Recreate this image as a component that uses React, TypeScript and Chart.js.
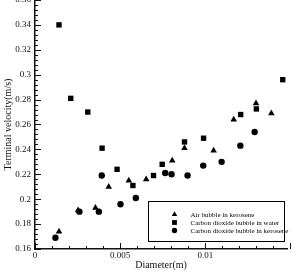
import React, { useEffect, useRef } from "react";
import { Chart, registerables } from "chart.js";

Chart.register(...registerables);

const seriesLabels = [
  "Air bubble in kerosene",
  "Carbon dioxide bubble in water",
  "Carbon dioxide bubble in kerosene",
];

const airX = [0.00141, 0.00253, 0.00355, 0.00433, 0.00551, 0.00653, 0.00806, 0.00878, 0.01049, 0.01167, 0.01298, 0.01388];
const airY = [0.174, 0.191, 0.193, 0.21, 0.215, 0.216, 0.231, 0.241, 0.239, 0.264, 0.277, 0.269];

const waterX = [0.00141, 0.0021, 0.0031, 0.00394, 0.00482, 0.00575, 0.00696, 0.00747, 0.00878, 0.0099, 0.01208, 0.013, 0.01455];
const waterY = [0.34, 0.281, 0.27, 0.241, 0.224, 0.211, 0.219, 0.228, 0.246, 0.249, 0.268, 0.2725, 0.296];

const keroX = [0.0012, 0.00261, 0.00375, 0.00392, 0.00502, 0.00592, 0.00765, 0.00802, 0.00896, 0.00988, 0.01096, 0.01206, 0.0129];
const keroY = [0.169, 0.19, 0.19, 0.219, 0.196, 0.201, 0.221, 0.22, 0.219, 0.227, 0.23, 0.243, 0.254];

const xTickValues = [0, 0.005, 0.01];
const xTickLabels = ["0", "0.005", "0.01"];
const yTickValues = [0.16, 0.18, 0.2, 0.22, 0.24, 0.26, 0.28, 0.3, 0.32, 0.34, 0.36];
const yTickLabels = ["0.16", "0.18", "0.2", "0.22", "0.24", "0.26", "0.28", "0.3", "0.32", "0.34", "0.36"];
const xMinorStep = 0.001;
const yMinorStep = 0.004;

const FONT = "'Liberation Serif', 'Times New Roman', serif";

const toPoints = (xs: number[], ys: number[]) => xs.map((x, i) => ({ x, y: ys[i] }));

const tickPlugin = {
  id: "innerTicks",
  afterDatasetsDraw(chart: any) {
    const { ctx, chartArea, scales } = chart;
    const xs = scales.x;
    const ys = scales.y;
    ctx.save();
    ctx.strokeStyle = "#111";
    ctx.lineWidth = 1;
    const nX = Math.round((xs.max - xs.min) / xMinorStep);
    for (let i = 0; i <= nX; i++) {
      const v = xs.min + i * xMinorStep;
      const px = Math.round(xs.getPixelForValue(v)) + 0.5;
      const major = Math.abs(v / 0.005 - Math.round(v / 0.005)) < 1e-6;
      const len = major ? 6 : 3;
      ctx.beginPath();
      ctx.moveTo(px, chartArea.bottom);
      ctx.lineTo(px, chartArea.bottom - len);
      ctx.stroke();
    }
    const nY = Math.round((ys.max - ys.min) / yMinorStep);
    for (let i = 0; i <= nY; i++) {
      const v = ys.min + i * yMinorStep;
      const py = Math.round(ys.getPixelForValue(v)) + 0.5;
      const major = Math.abs((v - 0.16) / 0.02 - Math.round((v - 0.16) / 0.02)) < 1e-6;
      const len = major ? 6 : 3;
      ctx.beginPath();
      ctx.moveTo(chartArea.left, py);
      ctx.lineTo(chartArea.left + len, py);
      ctx.stroke();
    }
    ctx.restore();
  },
};

const legendPlugin = {
  id: "boxLegend",
  afterDraw(chart: any) {
    const { ctx, chartArea } = chart;
    const bx = chartArea.left + 113.5;
    const by = chartArea.top + 201.5;
    const bw = 136;
    const bh = 40;
    ctx.save();
    ctx.strokeStyle = "#000";
    ctx.lineWidth = 1;
    ctx.strokeRect(bx, by, bw, bh);
    ctx.font = `7px ${FONT}`;
    ctx.fillStyle = "#000";
    ctx.textBaseline = "middle";
    chart.data.datasets.forEach((ds: any, i: number) => {
      const cy = by + 13 + i * 8;
      const style = ds.pointStyle;
      const r = 3.2;
      const mx = bx + 26;
      ctx.beginPath();
      if (style === "triangle") {
        ctx.moveTo(mx, cy - r);
        ctx.lineTo(mx + r * 0.866, cy + r / 2);
        ctx.lineTo(mx - r * 0.866, cy + r / 2);
        ctx.closePath();
      } else if (style === "rect") {
        const s = r * 0.75;
        ctx.rect(mx - s, cy - s, 2 * s, 2 * s);
      } else {
        ctx.arc(mx, cy, r * 0.85, 0, Math.PI * 2);
      }
      ctx.fill();
      ctx.fillText(ds.label, bx + 42, cy + 0.5);
    });
    ctx.restore();
  },
};

export default function App() {
  const ref = useRef<HTMLCanvasElement | null>(null);
  useEffect(() => {
    document.body.style.margin = "0";
    if (!ref.current) return;
    const common = {
      backgroundColor: "#000",
      borderColor: "#000",
      borderWidth: 0,
      showLine: false,
    };
    const chart = new Chart(ref.current, {
      type: "scatter",
      data: {
        datasets: [
          { ...common, label: seriesLabels[0], data: toPoints(airX, airY), pointStyle: "triangle", pointRadius: 3.8 },
          { ...common, label: seriesLabels[1], data: toPoints(waterX, waterY), pointStyle: "rect", pointRadius: 3.8 },
          { ...common, label: seriesLabels[2], data: toPoints(keroX, keroY), pointStyle: "circle", pointRadius: 3.2 },
        ],
      },
      options: {
        responsive: false,
        animation: false,
        devicePixelRatio: 1,
        layout: { autoPadding: false, padding: { top: 0, right: 8, left: 0, bottom: 0 } },
        plugins: { legend: { display: false }, tooltip: { enabled: false } },
        scales: {
          x: {
            type: "linear",
            min: 0,
            max: 0.0148,
            afterBuildTicks: (s: any) => {
              s.ticks = xTickValues.map((v) => ({ value: v }));
            },
            afterFit: (s: any) => {
              s.height = 22;
              s.paddingLeft = 0;
              s.paddingRight = 0;
            },
            grid: { display: false, drawTicks: false },
            border: { display: true, color: "#111", width: 1.5 },
            ticks: {
              padding: 1,
              color: "#111",
              font: { family: FONT, size: 9 },
              maxRotation: 0,
              autoSkip: false,
              callback: (v: any) => {
                const idx = xTickValues.findIndex((t) => Math.abs(t - v) < 1e-9);
                return idx >= 0 ? xTickLabels[idx] : "";
              },
            },
            title: {
              display: true,
              text: "Diameter(m)",
              color: "#111",
              font: { family: FONT, size: 10 },
              padding: { top: 0, bottom: 0 },
            },
          },
          y: {
            type: "linear",
            min: 0.16,
            max: 0.36,
            afterBuildTicks: (s: any) => {
              s.ticks = yTickValues.map((v) => ({ value: v }));
            },
            afterFit: (s: any) => {
              s.width = 35;
              s.paddingTop = 0;
              s.paddingBottom = 0;
            },
            grid: { display: false, drawTicks: false },
            border: { display: true, color: "#111", width: 1.5 },
            ticks: {
              padding: 4,
              color: "#111",
              font: { family: FONT, size: 9 },
              autoSkip: false,
              callback: (v: any) => {
                const idx = yTickValues.findIndex((t) => Math.abs(t - v) < 1e-9);
                return idx >= 0 ? yTickLabels[idx] : "";
              },
            },
            title: {
              display: true,
              text: "Terminal velocity(m/s)",
              color: "#111",
              font: { family: FONT, size: 10 },
              padding: { top: 2, bottom: 0 },
            },
          },
        },
      },
      plugins: [tickPlugin, legendPlugin],
    } as any);
    return () => chart.destroy();
  }, []);
  return <canvas ref={ref} width={295} height={271} style={{ display: "block" }} />;
}
